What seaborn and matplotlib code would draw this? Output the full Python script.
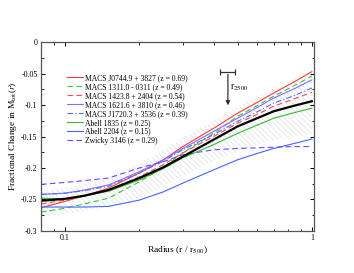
import numpy as np
import pandas as pd
import matplotlib
matplotlib.use("Agg")
import matplotlib.pyplot as plt
import seaborn as sns

# radius grid (r / r500)
radius = [0.08, 0.1, 0.12, 0.15, 0.2, 0.25, 0.3, 0.4, 0.5, 0.6, 0.7, 0.85, 1.0]

# fractional change curves
macs0744 = [-0.263, -0.253, -0.244, -0.232, -0.208, -0.187, -0.166, -0.137, -0.113, -0.096, -0.081, -0.063, -0.047]
macs1311 = [-0.270, -0.264, -0.257, -0.248, -0.222, -0.199, -0.176, -0.145, -0.118, -0.101, -0.086, -0.069, -0.054]
macs1423 = [-0.257, -0.251, -0.244, -0.235, -0.214, -0.195, -0.176, -0.150, -0.129, -0.115, -0.102, -0.090, -0.080]
macs1621 = [-0.242, -0.240, -0.235, -0.227, -0.206, -0.187, -0.169, -0.142, -0.121, -0.104, -0.089, -0.074, -0.060]
macs1720 = [-0.242, -0.240, -0.236, -0.229, -0.208, -0.189, -0.171, -0.147, -0.126, -0.111, -0.097, -0.085, -0.073]
abell1835 = [-0.248, -0.249, -0.244, -0.237, -0.219, -0.201, -0.184, -0.163, -0.145, -0.132, -0.121, -0.112, -0.105]
abell2204 = [-0.262, -0.262, -0.262, -0.261, -0.251, -0.238, -0.224, -0.203, -0.187, -0.177, -0.169, -0.161, -0.154]
zwicky3146 = [-0.226, -0.223, -0.220, -0.216, -0.200, -0.190, -0.179, -0.171, -0.169, -0.168, -0.167, -0.166, -0.166]

mean_curve = [-0.252, -0.249, -0.244, -0.235, -0.216, -0.199, -0.182, -0.155, -0.134, -0.121, -0.110, -0.101, -0.094]
band_lo = [-0.277, -0.273, -0.268, -0.262, -0.247, -0.230, -0.212, -0.190, -0.173, -0.163, -0.156, -0.150, -0.147]
band_hi = [-0.237, -0.232, -0.224, -0.215, -0.193, -0.172, -0.152, -0.125, -0.103, -0.087, -0.073, -0.058, -0.046]

labels = ["MACS J0744.9 + 3827 (z = 0.69)", "MACS 1311.0 - 0311 (z = 0.49)",
          "MACS 1423.8 + 2404 (z = 0.54)", "MACS 1621.6 + 3810 (z = 0.46)",
          "MACS J1720.3 + 3536 (z = 0.39)", "Abell 1835 (z = 0.25)",
          "Abell 2204 (z = 0.15)", "Zwicky 3146 (z = 0.29)"]
curves = [macs0744, macs1311, macs1423, macs1621, macs1720, abell1835, abell2204, zwicky3146]
colors = ["#ff3b3b", "#3fc23f", "#ff4a4a", "#8a6cff", "#4a6cff", "#33bb33", "#4466ff", "#6a4cf0"]
styles = ["-", (0, (5, 3)), (0, (5, 3)), "-", (0, (5, 2, 1, 2)), "-", "-", (0, (5, 3))]

plt.rcParams['font.family'] = ['Liberation Serif', 'DejaVu Serif']
plt.rcParams['mathtext.fontset'] = 'stix'
plt.rcParams['hatch.linewidth'] = 0.35

fig = plt.figure(figsize=(3.54, 2.73), dpi=100)
ax = fig.add_axes([0.116, 0.154, 0.771, 0.692])

# hatched scatter band
ax.fill_between(radius, band_lo, band_hi, facecolor="none", edgecolor="#cdd5d5",
                hatch="\\\\\\\\\\\\", linewidth=0)

for lab, y, c, ls in zip(labels, curves, colors, styles):
    sns.lineplot(x=radius, y=y, ax=ax, color=c, linestyle=ls, linewidth=0.8, label=lab)

sns.lineplot(x=radius, y=mean_curve, ax=ax, color="black", linewidth=1.6)

# r2500 marker
ax.errorbar([0.457], [-0.047], xerr=[[0.032], [0.032]], fmt="none", ecolor="#333333",
            elinewidth=0.9, capsize=2.5, capthick=0.9)
ax.annotate("", xy=(0.457, -0.105), xytext=(0.457, -0.047),
            arrowprops=dict(arrowstyle="-|>", color="#333333", lw=0.9, mutation_scale=6))
ax.text(0.468, -0.073, r"r$_{2500}$", fontsize=7, va="center")

ax.set_xscale("log")
ax.set_xlim(0.08, 1.02)
ax.set_ylim(-0.3, 0)
ax.set_xticks([0.1, 1])
ax.set_xticklabels(["0.1", "1"])
ax.set_yticks([0, -0.05, -0.1, -0.15, -0.2, -0.25, -0.3])
ax.set_yticklabels(["0", "-0.05", "-0.1", "-0.15", "-0.2", "-0.25", "-0.3"])
ax.set_yticks(np.arange(-0.3, 0.001, 0.025), minor=True)
ax.tick_params(which="both", direction="in", top=True, right=True, labelsize=5.8, pad=2.5)
ax.tick_params(which="major", length=3, width=0.7)
ax.tick_params(which="minor", length=1.8, width=0.6)
for s in ax.spines.values():
    s.set_linewidth(0.9)
    s.set_color("#555555")

ax.set_xlabel(r"Radius (r / r$_{500}$)", fontsize=6.8, labelpad=1.5)
ax.set_ylabel(r"Fractional Change in M$_{\rm tot}$($r$)", fontsize=6.8, labelpad=1.5)

ax.legend(loc="upper left", bbox_to_anchor=(0.095, 0.83), frameon=False, fontsize=5.5,
          handlelength=2.1, labelspacing=0.12, handletextpad=0.3, borderaxespad=0,
          borderpad=0)

fig.savefig("out.png", dpi=100)
